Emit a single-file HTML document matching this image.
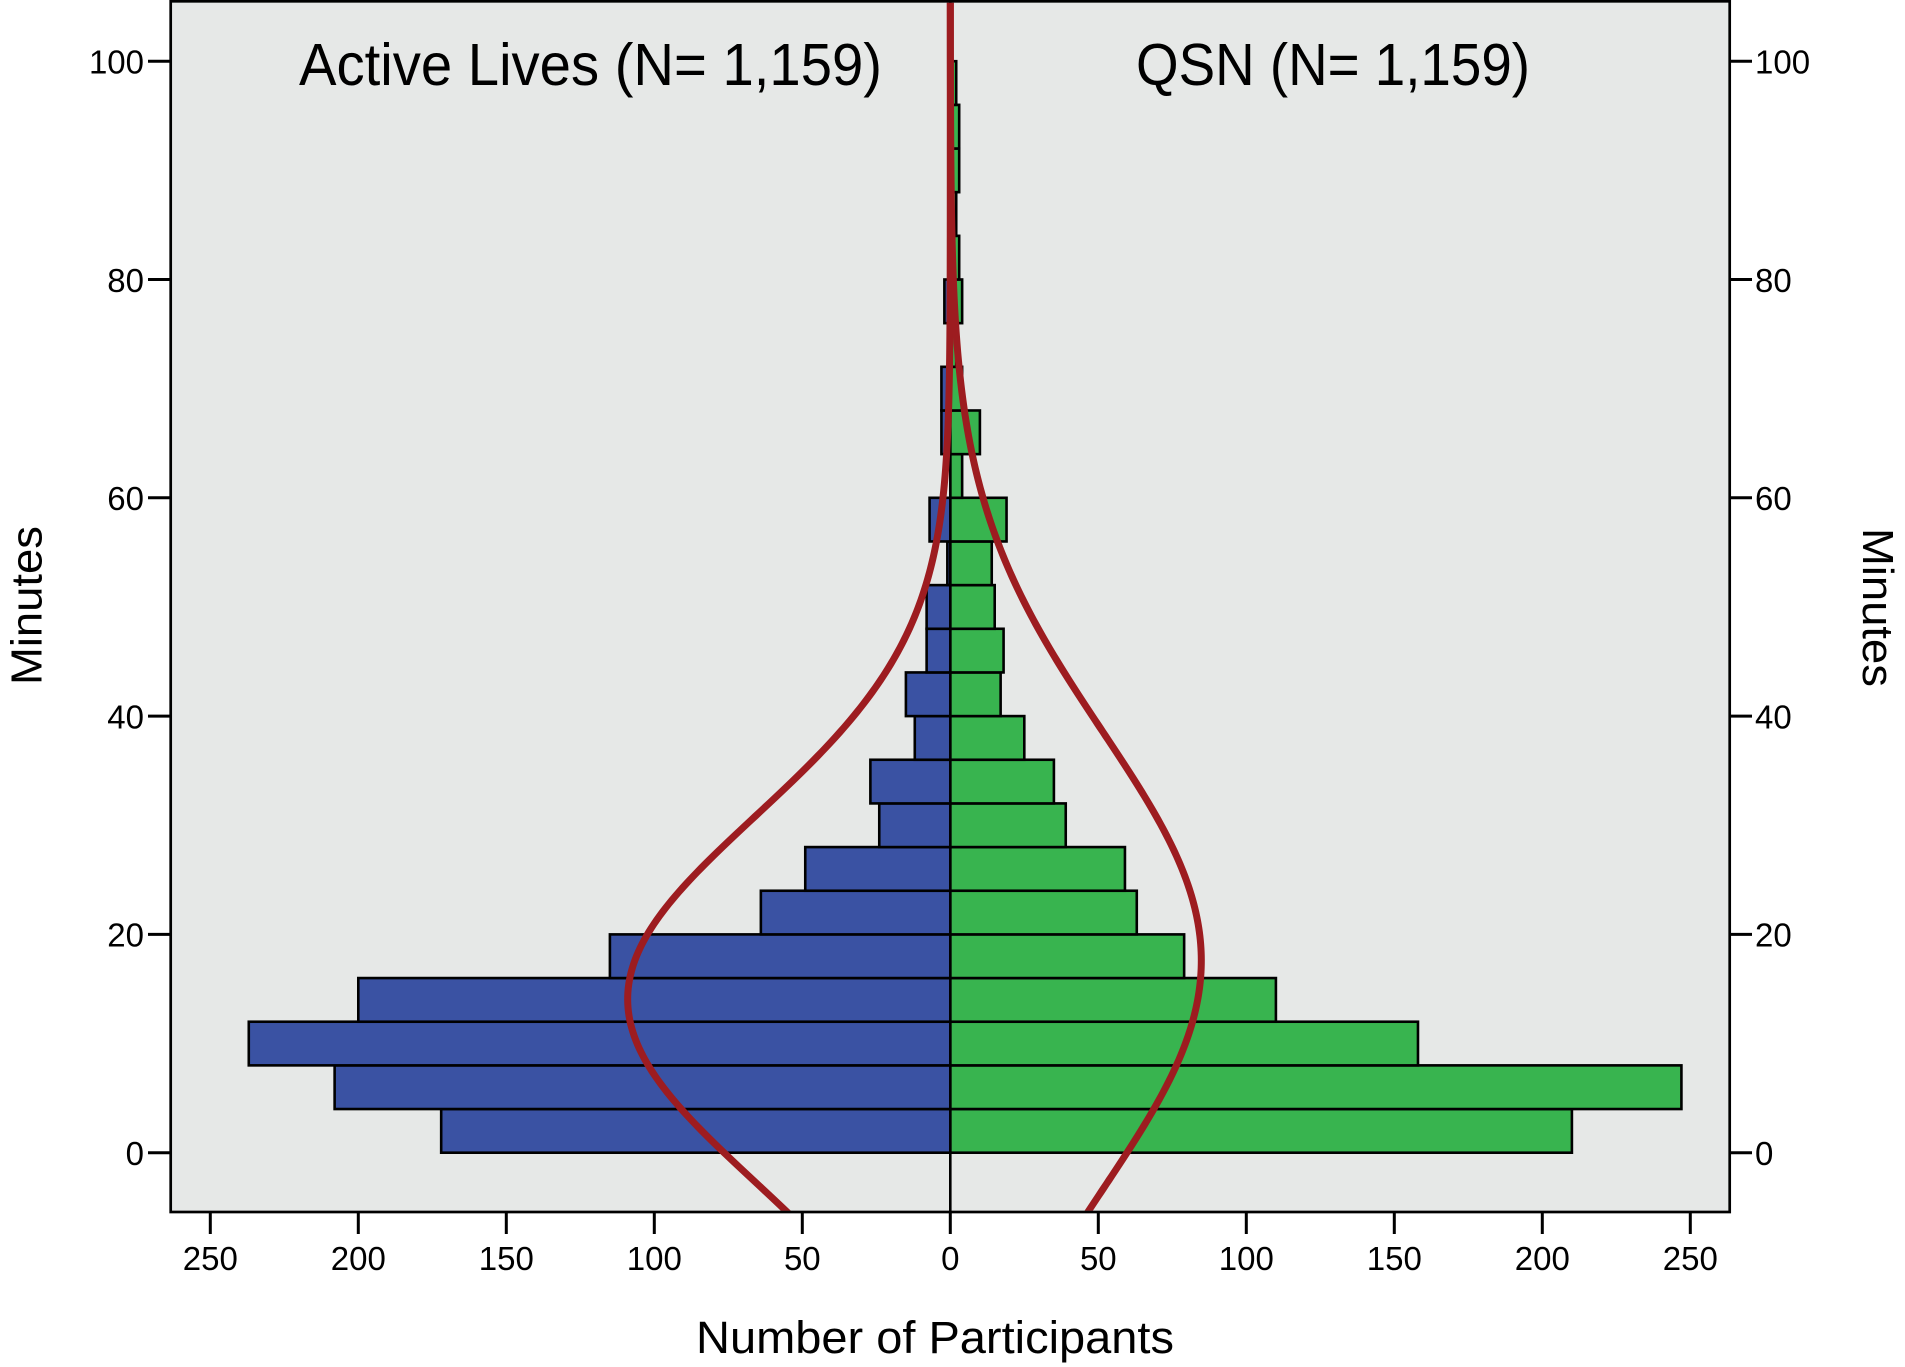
<!DOCTYPE html>
<html>
<head>
<meta charset="utf-8">
<style>
  html,body{margin:0;padding:0;background:#fff;}
  svg{display:block;}
  text{font-family:"Liberation Sans",Arial,sans-serif;fill:#000;}
</style>
</head>
<body>
<svg id="chart" width="1905" height="1367" viewBox="0 0 1905 1367" xmlns="http://www.w3.org/2000/svg">
  <defs>
    <clipPath id="plotclip"><rect x="172" y="2.7" width="1556" height="1208"/></clipPath>
  </defs>
  <rect x="0" y="0" width="1905" height="1367" fill="#ffffff"/>
  <rect x="170.7" y="1.3" width="1559" height="1210.7" fill="#E6E8E7" stroke="none"/>
  <g id="bars" stroke="#000" stroke-width="2.6"></g>
  <line x1="950.3" y1="0" x2="950.3" y2="1212" stroke="#000" stroke-width="2.6"/>
  <g clip-path="url(#plotclip)">
    <path id="curveL" fill="none" stroke="#9D1C20" stroke-width="7" d=""/>
    <path id="curveR" fill="none" stroke="#9D1C20" stroke-width="7" d=""/>
  </g>
  <rect x="170.7" y="1.3" width="1559" height="1210.7" fill="none" stroke="#000" stroke-width="2.7"/>
  <g id="ticks" stroke="#000" stroke-width="3"></g>
  <g id="labels" font-size="33"></g>

  <text x="299" y="85" font-size="59" textLength="583" lengthAdjust="spacingAndGlyphs">Active Lives (N= 1,159)</text>
  <text x="1136" y="85" font-size="59" textLength="394" lengthAdjust="spacingAndGlyphs">QSN (N= 1,159)</text>
  <text x="696" y="1353" font-size="45" textLength="478" lengthAdjust="spacingAndGlyphs">Number of Participants</text>
  <text transform="translate(41.7,685) rotate(-90)" x="0" y="0" font-size="44" textLength="159" lengthAdjust="spacingAndGlyphs">Minutes</text>
  <text transform="translate(1863,528) rotate(90)" x="0" y="0" font-size="44" textLength="159" lengthAdjust="spacingAndGlyphs">Minutes</text>
</svg>
<script>
(function(){
  var NS="http://www.w3.org/2000/svg";
  var cx=950.3, px=2.96, y0=1152.7, bh=43.66, pm=10.915;
  var blue=[172,208,237,200,115,64,49,24,27,12,15,8,8,1,7,0,3,3,0,2,0,0,0,0,0];
  var green=[210,247,158,110,79,63,59,39,35,25,17,18,15,14,19,4,10,4,2,4,3,2,3,3,2];
  var bars=document.getElementById('bars');
  function rect(x,y,w,h,fill){
    var r=document.createElementNS(NS,'rect');
    r.setAttribute('x',x.toFixed(2));r.setAttribute('y',y.toFixed(2));
    r.setAttribute('width',Math.max(w,0.01).toFixed(2));r.setAttribute('height',h.toFixed(2));
    r.setAttribute('fill',fill);bars.appendChild(r);
  }
  for(var k=0;k<blue.length;k++){
    var yt=y0-bh*(k+1);
    if(blue[k]>0){var w=blue[k]*px;rect(cx-w,yt,w,bh,'#3A52A3');}
    if(green[k]>0){var w2=green[k]*px;rect(cx,yt,w2,bh,'#38B44F');}
  }
  function curve(A,mu,s,sign){
    var d='';
    for(var y=1220;y>=-10;y-=4){
      var m=(y0-y)/pm;
      var v=A*Math.exp(-((m-mu)*(m-mu))/(2*s*s));
      var x=cx+sign*v*px;
      d+=(d?'L':'M')+x.toFixed(2)+' '+y.toFixed(2);
    }
    return d;
  }
  document.getElementById('curveL').setAttribute('d',curve(109,14.07,16.7,-1));
  document.getElementById('curveR').setAttribute('d',curve(84.8,17.6,21,1));

  var ticks=document.getElementById('ticks');
  var labels=document.getElementById('labels');
  function line(x1,y1,x2,y2){
    var l=document.createElementNS(NS,'line');
    l.setAttribute('x1',x1);l.setAttribute('y1',y1);l.setAttribute('x2',x2);l.setAttribute('y2',y2);
    ticks.appendChild(l);
  }
  function txt(x,y,s,anchor){
    var t=document.createElementNS(NS,'text');
    t.setAttribute('x',x);t.setAttribute('y',y);t.setAttribute('text-anchor',anchor);
    t.textContent=s;labels.appendChild(t);
  }
  for(var m=0;m<=100;m+=20){
    var y=y0-pm*m;
    line(148,y,170.7,y);
    line(1729.7,y,1752,y);
    txt(144,y+12.3,String(m),'end');
    txt(1755,y+12.3,String(m),'start');
  }
  for(var i=-5;i<=5;i++){
    var x=cx+i*50*px;
    line(x,1212,x,1234);
    txt(x,1270,String(Math.abs(i*50)),'middle');
  }
})();
</script>
</body>
</html>
